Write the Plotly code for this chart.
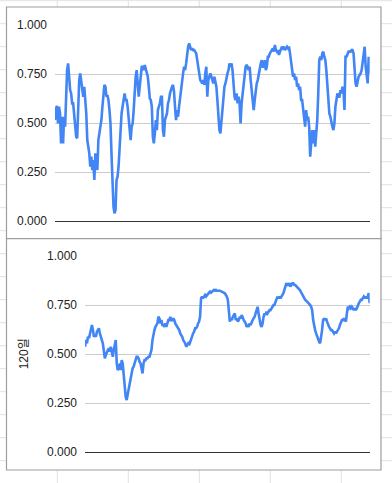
import plotly.graph_objects as go

# ---------------- data ----------------
top_vals = [
    0.515, 0.575, 0.587, 0.498, 0.583, 0.549, 0.396, 0.532, 0.396, 0.532, 0.481, 0.651, 0.770, 0.804, 0.736,
    0.668, 0.651, 0.600, 0.600, 0.532, 0.464, 0.430, 0.422, 0.651, 0.719, 0.753, 0.702, 0.651, 0.634, 0.685,
    0.634, 0.549, 0.413, 0.379, 0.345, 0.277, 0.328, 0.260, 0.311, 0.209, 0.345, 0.294, 0.260, 0.413, 0.447,
    0.481, 0.515, 0.583, 0.634, 0.694, 0.685, 0.634, 0.643, 0.617, 0.566, 0.498, 0.345, 0.209, 0.073, 0.039,
    0.056, 0.209, 0.226, 0.277, 0.379, 0.464, 0.549, 0.583, 0.617, 0.651, 0.617, 0.617, 0.583, 0.515, 0.464,
    0.413, 0.481, 0.498, 0.566, 0.685, 0.736, 0.770, 0.719, 0.634, 0.685, 0.736, 0.787, 0.787, 0.770, 0.796,
    0.779, 0.753, 0.736, 0.685, 0.626, 0.617, 0.583, 0.430,
    0.396, 0.447, 0.515, 0.464, 0.566, 0.583, 0.600, 0.634, 0.634, 0.464, 0.430, 0.515, 0.532, 0.549, 0.600,
    0.617, 0.651, 0.677, 0.685, 0.694, 0.660, 0.583, 0.515, 0.566, 0.532, 0.583, 0.634, 0.651, 0.702, 0.753,
    0.787, 0.770, 0.804, 0.855, 0.889, 0.906, 0.881, 0.872, 0.881, 0.872, 0.872, 0.864, 0.855, 0.821, 0.787,
    0.753, 0.719, 0.711, 0.702, 0.719, 0.694, 0.753, 0.787, 0.634, 0.719, 0.736, 0.753, 0.736, 0.719, 0.702,
    0.736, 0.711, 0.685, 0.617, 0.498, 0.464, 0.447, 0.515, 0.583, 0.634, 0.685, 0.702, 0.736, 0.753, 0.770,
    0.804, 0.787, 0.804, 0.770, 0.685, 0.634, 0.617, 0.651, 0.600, 0.634, 0.600, 0.498, 0.600, 0.651, 0.685,
    0.736, 0.787, 0.796, 0.787, 0.770, 0.787, 0.719, 0.651, 0.600, 0.566, 0.617, 0.668, 0.702, 0.719, 0.753,
    0.770, 0.804, 0.821,
    0.787, 0.787, 0.821, 0.770, 0.787, 0.838, 0.838, 0.855, 0.864, 0.872, 0.881, 0.864, 0.898, 0.872, 0.864,
    0.872, 0.847, 0.864, 0.881, 0.889, 0.881, 0.889, 0.872, 0.881, 0.889, 0.881, 0.889, 0.855, 0.804, 0.787,
    0.736, 0.753, 0.719, 0.736, 0.685, 0.702, 0.668, 0.685, 0.617, 0.617, 0.566, 0.515, 0.481, 0.566, 0.515,
    0.532, 0.481, 0.328, 0.430, 0.464, 0.396, 0.464, 0.379, 0.447, 0.515, 0.651, 0.821, 0.838, 0.821, 0.855,
    0.864, 0.838, 0.821, 0.770, 0.685, 0.600, 0.549, 0.532, 0.498, 0.481, 0.464, 0.498, 0.583, 0.617, 0.651,
    0.634, 0.634, 0.668, 0.651, 0.685, 0.668, 0.566, 0.838, 0.838, 0.855, 0.864, 0.864, 0.864, 0.872, 0.872,
    0.855, 0.736, 0.702, 0.685, 0.719, 0.736, 0.745, 0.753, 0.770, 0.804, 0.855, 0.889, 0.787, 0.736, 0.702,
    0.838, 0.753,
]

bottom_vals = [
    0.537, 0.571, 0.554, 0.588, 0.580, 0.605, 0.614, 0.648, 0.622, 0.588, 0.597, 0.588, 0.614, 0.622, 0.631,
    0.605, 0.580, 0.571, 0.554, 0.512, 0.478, 0.495, 0.512, 0.520, 0.529, 0.512, 0.537, 0.503, 0.486, 0.520,
    0.554, 0.571, 0.452, 0.418, 0.427, 0.452, 0.418, 0.469, 0.452, 0.384, 0.316, 0.282, 0.265, 0.291, 0.333,
    0.342, 0.367, 0.401, 0.427, 0.435, 0.452, 0.469, 0.486, 0.486, 0.478, 0.461, 0.452, 0.427, 0.401, 0.452,
    0.469, 0.469, 0.478, 0.478, 0.486, 0.486, 0.503, 0.520, 0.571, 0.605, 0.622, 0.639, 0.648, 0.656, 0.690,
    0.682, 0.656, 0.673, 0.648, 0.648, 0.639, 0.656, 0.639, 0.656, 0.673, 0.673, 0.690, 0.673, 0.673, 0.682,
    0.673, 0.656, 0.648, 0.639, 0.631, 0.622, 0.605,
    0.597, 0.588, 0.571, 0.563, 0.554, 0.537, 0.546, 0.554, 0.546, 0.563, 0.580, 0.597, 0.605, 0.614, 0.631,
    0.631, 0.639, 0.656, 0.665, 0.690, 0.784, 0.793, 0.784, 0.793, 0.801, 0.793, 0.801, 0.810, 0.813, 0.818,
    0.813, 0.818, 0.823, 0.827, 0.823, 0.827, 0.823, 0.825, 0.823, 0.823, 0.821, 0.818, 0.815, 0.813, 0.810,
    0.801, 0.793, 0.776, 0.690, 0.665, 0.682, 0.673, 0.690, 0.699, 0.707, 0.673, 0.682, 0.665, 0.673, 0.690,
    0.682, 0.699, 0.682, 0.673, 0.665, 0.656, 0.639, 0.648, 0.639, 0.656, 0.648, 0.665, 0.673, 0.682, 0.690,
    0.707, 0.733, 0.741, 0.707, 0.673, 0.648, 0.639, 0.656, 0.690, 0.707, 0.699, 0.716, 0.707, 0.716, 0.724,
    0.724, 0.733, 0.741, 0.750, 0.750, 0.767,
    0.784, 0.793, 0.784, 0.793, 0.784, 0.793, 0.801, 0.810, 0.827, 0.844, 0.861, 0.852, 0.852, 0.861, 0.844,
    0.852, 0.861, 0.861, 0.852, 0.852, 0.847, 0.844, 0.835, 0.830, 0.823, 0.813, 0.801, 0.793, 0.784, 0.776,
    0.772, 0.767, 0.759, 0.759, 0.750, 0.741, 0.724, 0.673, 0.639, 0.622, 0.605, 0.588, 0.580, 0.563, 0.554,
    0.580, 0.622, 0.673, 0.682, 0.673, 0.682, 0.665, 0.648, 0.639, 0.631, 0.622, 0.622, 0.614, 0.605, 0.614,
    0.605, 0.614, 0.622, 0.631, 0.648, 0.665, 0.673, 0.673, 0.682, 0.673, 0.665, 0.707, 0.741, 0.733, 0.741,
    0.733, 0.741, 0.733, 0.724, 0.733, 0.724, 0.733, 0.750, 0.759, 0.767, 0.776, 0.776, 0.784, 0.793, 0.784,
    0.793, 0.784, 0.793, 0.810, 0.759,
]

y_ticks = [0.0, 0.25, 0.5, 0.75, 1.0]
bottom_title = "120일"

# ---------------- layout helpers ----------------
W, H = 392, 483
LINE_BLUE = "#4285F4"
FONT = "Liberation Sans, Arial, Noto Sans CJK KR, sans-serif"


def fx(p):
    return p / W


def fy(p):
    return 1 - p / H


fig = go.Figure()
fig.add_trace(go.Scatter(
    x=list(range(len(top_vals))), y=top_vals, mode="lines",
    line=dict(color=LINE_BLUE, width=2.6), xaxis="x", yaxis="y",
    showlegend=False, hoverinfo="skip"))
fig.add_trace(go.Scatter(
    x=list(range(len(bottom_vals))), y=bottom_vals, mode="lines",
    line=dict(color=LINE_BLUE, width=2.6), xaxis="x2", yaxis="y2",
    showlegend=False, hoverinfo="skip"))

shapes = []
# spreadsheet cell grid behind the charts
for k in range(22):
    yy = 0.7 + 23.0 * k
    shapes.append(dict(type="line", xref="paper", yref="paper", layer="below",
                       x0=0, x1=1, y0=fy(yy), y1=fy(yy),
                       line=dict(color="#e2e2e2", width=1)))
for k in range(5):
    xx = 57.3 + 71.0 * k
    shapes.append(dict(type="line", xref="paper", yref="paper", layer="below",
                       x0=fx(xx), x1=fx(xx), y0=0, y1=1,
                       line=dict(color="#e2e2e2", width=1)))
# chart boxes
for (t, b) in [(7.0, 238.7), (238.7, 470.0)]:
    shapes.append(dict(type="rect", xref="paper", yref="paper", layer="below",
                       x0=fx(6.5), x1=fx(381.0), y0=fy(b), y1=fy(t),
                       fillcolor="white", line=dict(color="#9e9e9e", width=1.2)))

yaxis_common = dict(
    range=[0, 1], tickvals=y_ticks, tickformat=".3f",
    showgrid=True, gridcolor="#cccccc", gridwidth=1,
    zeroline=True, zerolinecolor="#333333", zerolinewidth=1.2,
    showline=False, ticks="", ticklabelstandoff=7, automargin=False,
    tickfont=dict(family=FONT, size=12, color="#222222"),
    fixedrange=True,
)

fig.update_layout(
    width=W, height=H, autosize=False,
    margin=dict(l=0, r=0, t=0, b=0, pad=0),
    paper_bgcolor="white", plot_bgcolor="rgba(0,0,0,0)",
    shapes=shapes,
    xaxis=dict(domain=[fx(55), fx(369.7)], range=[0, len(top_vals) - 1],
               visible=False, anchor="y", fixedrange=True, automargin=False),
    yaxis=dict(domain=[fy(221), fy(25)], anchor="x", **yaxis_common),
    xaxis2=dict(domain=[fx(85), fx(369.7)], range=[0, len(bottom_vals) - 1],
                visible=False, anchor="y2", fixedrange=True, automargin=False),
    yaxis2=dict(domain=[fy(452), fy(256)], anchor="x2", **yaxis_common),
    annotations=[dict(text=bottom_title, xref="paper", yref="paper",
                      x=fx(24.3), y=fy(354), textangle=-90, showarrow=False,
                      xanchor="center", yanchor="middle",
                      font=dict(family=FONT, size=12, color="#222222"))],
)

page_fix = (
    "document.documentElement.style.margin='0';"
    "document.documentElement.style.overflow='hidden';"
    "document.body.style.margin='0';"
    "document.body.style.padding='0';"
    "document.body.style.overflow='hidden';"
)

fig.write_html("out.html", config={"responsive": False, "displayModeBar": False},
               post_script=page_fix)
